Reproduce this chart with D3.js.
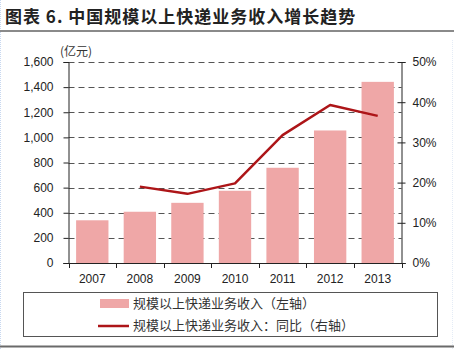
<!DOCTYPE html>
<html><head><meta charset="utf-8">
<script src="https://cdn.jsdelivr.net/npm/d3@7/dist/d3.min.js"></script>
<style>
body{margin:0;background:#fff;}
svg{display:block;}
</style></head>
<body><svg id="c" width="454" height="349"></svg>
<script>
const years = ["2007","2008","2009","2010","2011","2012","2013"];
const revenue = [340, 408, 479, 575, 758, 1055, 1442];
const growth = [null, 19.0, 17.2, 19.8, 31.8, 39.3, 36.6];
const leftTicks = [0,200,400,600,800,1000,1200,1400,1600];
const rightTicks = [0,10,20,30,40,50];
const titleText = "图表 6. 中国规模以上快递业务收入增长趋势";
const unitText = "(亿元)";
const legendLabels = ["规模以上快递业务收入（左轴）","规模以上快递业务收入：同比（右轴）"];

const svg = d3.select("#c");
const W = 454, H = 349;
const L = 68.5, R = 401.5, T = 62, B = 263;
const barColor = "#EFA7A7", lineColor = "#AD1518";
const latin = "'Liberation Sans', Arial, sans-serif";
const cjk = "'Noto Sans CJK SC', sans-serif";

// frame decorations
svg.append("line").attr("x1",0.5).attr("x2",0.5).attr("y1",0).attr("y2",H)
  .attr("stroke","#c8d8f0").attr("stroke-dasharray","1,1");
svg.append("line").attr("x1",452.5).attr("x2",452.5).attr("y1",40).attr("y2",H)
  .attr("stroke","#e4ecf6").attr("stroke-dasharray","1,1");

// title
svg.append("text").attr("x",5).attr("y",23).text(titleText)
  .attr("font-family",cjk).attr("font-weight","bold").attr("font-size",17)
  .attr("letter-spacing",1).attr("fill","#222");
svg.append("rect").attr("x",0).attr("y",30).attr("width",W).attr("height",2).attr("fill","#8a8a8a");
svg.append("rect").attr("x",0).attr("y",345.5).attr("width",W).attr("height",2).attr("fill","#6a6a6a");

const x = d3.scaleBand().domain(years).range([L,R]).paddingInner(0.32).paddingOuter(0.16);
const yL = d3.scaleLinear().domain([0,1600]).range([B,T]);
const yR = d3.scaleLinear().domain([0,50]).range([B,T]);

// grid
svg.append("g").selectAll("line").data(leftTicks.filter(d=>d>0)).join("line")
  .attr("x1",L).attr("x2",R).attr("y1",d=>Math.round(yL(d))+0.5).attr("y2",d=>Math.round(yL(d))+0.5)
  .attr("stroke","#555").attr("stroke-dasharray","6,4").attr("stroke-width",1);

// bars
svg.append("g").selectAll("rect").data(revenue).join("rect")
  .attr("x",(d,i)=>x(years[i])).attr("width",x.bandwidth())
  .attr("y",d=>yL(d)).attr("height",d=>B-yL(d)).attr("fill",barColor);

// line
const pts = growth.map((v,i)=>({v,i})).filter(d=>d.v!==null);
svg.append("path").datum(pts)
  .attr("d",d3.line().x(d=>x(years[d.i])+x.bandwidth()/2).y(d=>yR(d.v)))
  .attr("fill","none").attr("stroke",lineColor).attr("stroke-width",2.5).attr("stroke-linejoin","round");

// left axis
const gl = svg.append("g").attr("transform",`translate(${L},0)`)
  .call(d3.axisLeft(yL).tickValues(leftTicks).tickFormat(d3.format(",")).tickSize(5).tickPadding(10));
gl.select(".domain").attr("stroke","#222");
gl.selectAll(".tick line").attr("stroke","#222");
gl.selectAll("text").attr("font-family",latin).attr("font-size",12).attr("fill","#222");

// right axis
const gr = svg.append("g").attr("transform",`translate(${R},0)`)
  .call(d3.axisRight(yR).tickValues(rightTicks).tickFormat(d=>d+"%").tickSize(4).tickPadding(7));
gr.select(".domain").attr("stroke","#222");
gr.selectAll(".tick line").attr("stroke","#222").attr("x1",-4);
gr.selectAll("text").attr("font-family",latin).attr("font-size",12).attr("fill","#222");

// bottom axis
const gb = svg.append("g").attr("transform",`translate(0,${B})`);
gb.append("line").attr("x1",L-5).attr("x2",R+4).attr("y1",0.5).attr("y2",0.5).attr("stroke","#222");
const step = x.step();
gb.selectAll("line.tk").data(d3.range(0,years.length+1)).join("line").attr("class","tk")
  .attr("x1",i=>Math.round(L+i*step)+0.5).attr("x2",i=>Math.round(L+i*step)+0.5)
  .attr("y1",0).attr("y2",5).attr("stroke","#222");
gb.selectAll("text").data(years).join("text")
  .attr("x",d=>x(d)+x.bandwidth()/2).attr("y",20).attr("text-anchor","middle")
  .attr("font-family",latin).attr("font-size",12).attr("fill","#222").text(d=>d);

// unit
svg.append("text").attr("x",60).attr("y",56).text(unitText)
  .attr("font-family",cjk).attr("font-size",12).attr("fill","#333");

// legend
svg.append("rect").attr("x",23.5).attr("y",292.5).attr("width",414).attr("height",44)
  .attr("fill","#fff").attr("stroke","#555");
svg.append("rect").attr("x",100).attr("y",299).attr("width",29).attr("height",9).attr("fill",barColor);
svg.append("line").attr("x1",98).attr("x2",129).attr("y1",326).attr("y2",326)
  .attr("stroke",lineColor).attr("stroke-width",2.5);
svg.selectAll("text.lg").data(legendLabels).join("text").attr("class","lg")
  .attr("x",133).attr("y",(d,i)=>308+i*22).text(d=>d)
  .attr("font-family",cjk).attr("font-size",13).attr("fill","#333");
</script></body></html>
